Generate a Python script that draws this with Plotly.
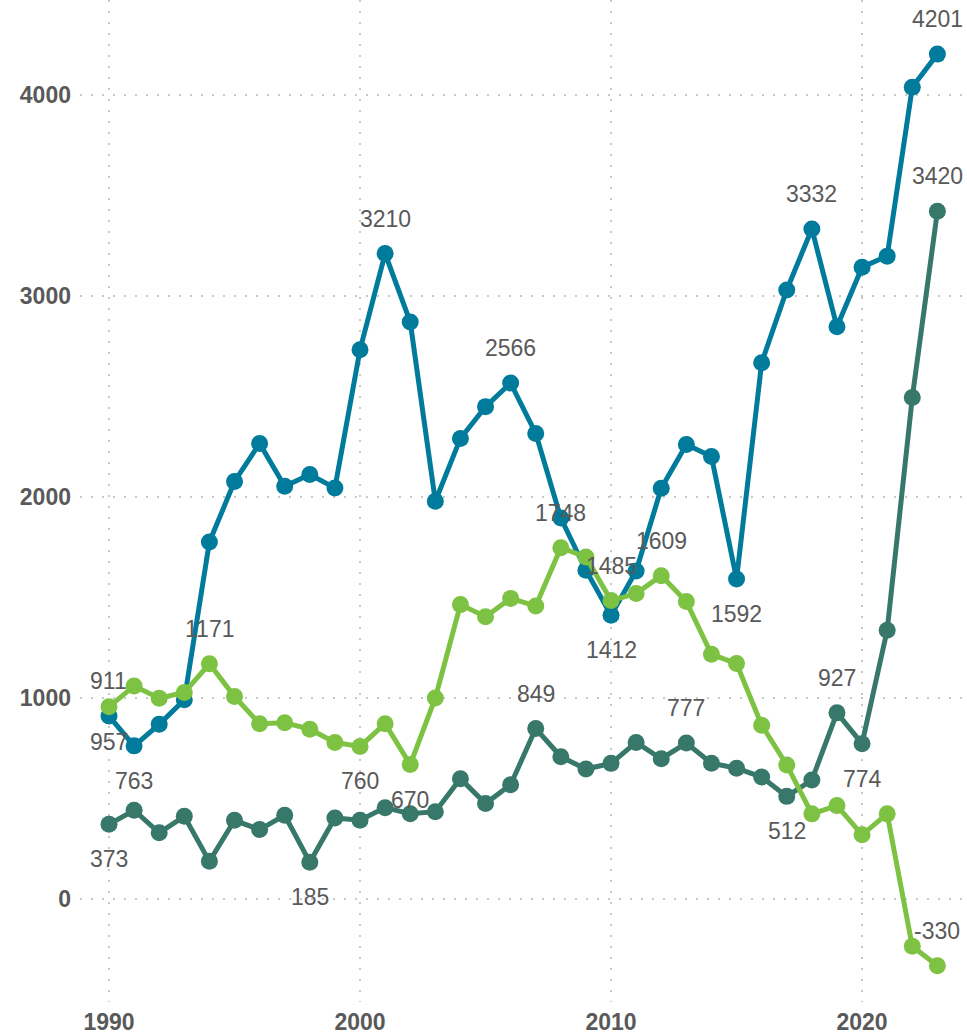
import plotly.graph_objects as go

years = [1990, 1991, 1992, 1993, 1994, 1995, 1996, 1997, 1998, 1999,
         2000, 2001, 2002, 2003, 2004, 2005, 2006, 2007, 2008, 2009,
         2010, 2011, 2012, 2013, 2014, 2015, 2016, 2017, 2018, 2019,
         2020, 2021, 2022, 2023]

blue_values = [911, 763, 870, 992, 1776, 2077, 2266, 2053, 2112, 2045,
               2732, 3210, 2870, 1979, 2291, 2449, 2566, 2316, 1895, 1636,
               1412, 1632, 2043, 2261, 2201, 1592, 2667, 3029, 3332, 2846,
               3142, 3197, 4036, 4201]

green_values = [957, 1061, 1000, 1028, 1171, 1008, 873, 878, 846, 780,
                760, 873, 670, 1001, 1465, 1405, 1496, 1458, 1748, 1702,
                1485, 1520, 1609, 1480, 1218, 1172, 866, 668, 425, 466,
                321, 425, -233, -330]

dark_values = [373, 443, 331, 413, 189, 393, 347, 418, 185, 405,
               393, 456, 426, 436, 600, 476, 570, 849, 709, 648,
               676, 780, 699, 777, 677, 652, 608, 512, 593, 927,
               774, 1338, 2494, 3420]

# labelled points: (year, direction)
blue_labels = [(1990, "up"), (1991, "down"), (2001, "up"), (2006, "up"),
               (2010, "down"), (2015, "down"), (2018, "up"), (2023, "up")]
green_labels = [(1990, "down"), (1994, "up"), (2000, "down"), (2002, "down"),
                (2008, "up"), (2010, "up"), (2012, "up"), (2023, "up")]
dark_labels = [(1990, "down"), (1998, "down"), (2007, "up"), (2013, "up"),
               (2017, "down"), (2019, "up"), (2020, "down"), (2023, "up")]

x_ticks = [1990, 2000, 2010, 2020]
y_ticks = [0, 1000, 2000, 3000, 4000]

BLUE = "#017B9B"
GREEN = "#7DC243"
DARK = "#37786B"
TEXT = "#595959"
FONT = "Liberation Sans, Arial, sans-serif"

series = [
    ("Blue", blue_values, BLUE, blue_labels),
    ("Dark", dark_values, DARK, dark_labels),
    ("Green", green_values, GREEN, green_labels),
]

fig = go.Figure()
annotations = []
for name, vals, color, labels in series:
    fig.add_trace(go.Scatter(
        x=years, y=vals, mode="lines+markers", name=name,
        line=dict(color=color, width=5),
        marker=dict(color=color, size=17),
        cliponaxis=False, showlegend=False,
        hoverinfo="x+y",
    ))
    for yr, d in labels:
        v = vals[years.index(yr)]
        annotations.append(dict(
            x=yr, y=v, xref="x", yref="y", text=str(v), showarrow=False,
            yshift=35 if d == "up" else -35,
            font=dict(family=FONT, size=23, color=TEXT),
        ))

grid = dict(showgrid=True, gridcolor="#C8C8C8", gridwidth=2, griddash="2px,9px",
            zeroline=False, showline=False, ticks="")

fig.update_layout(
    width=967, height=1035,
    margin=dict(l=80, r=0, t=0, b=30),
    paper_bgcolor="white", plot_bgcolor="white",
    annotations=annotations,
    xaxis=dict(range=[1988.845, 2024.18], tickvals=x_ticks, ticklabelstandoff=4,
               tickfont=dict(family=FONT, size=23, color=TEXT, weight="bold"),
               **grid),
    yaxis=dict(range=[-510, 4470], tickvals=y_ticks, ticklabelstandoff=8,
               tickfont=dict(family=FONT, size=23, color=TEXT, weight="bold"),
               **grid),
)

fig.write_html(
    "out.html",
    config={"displayModeBar": False},
    post_script="document.body.style.margin='0';document.body.style.overflow='hidden';",
)
